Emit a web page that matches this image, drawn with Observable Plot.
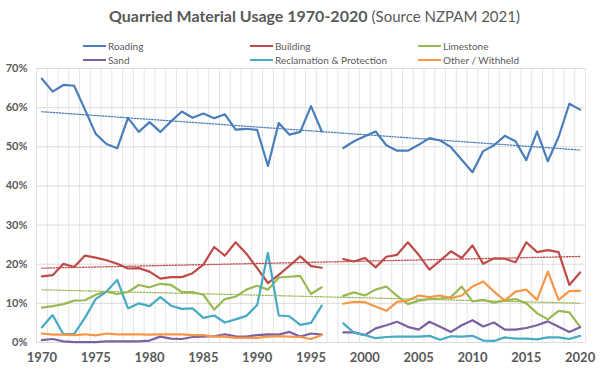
<!DOCTYPE html>
<html>
<head>
<meta charset="utf-8">
<script src="https://cdn.jsdelivr.net/npm/d3@7"></script>
<script src="https://cdn.jsdelivr.net/npm/@observablehq/plot@0.6"></script>
<style>
  body { margin: 0; background: #fff; font-family: Lato, "Open Sans", sans-serif; }
  #wrap { position: relative; width: 602px; height: 371px; overflow: hidden; }
  #title { position: absolute; left: 109px; top: 6px; color: #595959; white-space: nowrap; }
  #title .main { font-weight: bold; font-size: 16px; }
  #title .src { font-size: 15px; }
  .leg { position: absolute; font-size: 10px; color: #595959; white-space: nowrap; line-height: 12px; }
  .leg i { display: inline-block; width: 23px; height: 2px; vertical-align: middle; margin-right: 2px; position: relative; top: -1px; }
  #chart { position: absolute; left: 0; top: 0; }
</style>
</head>
<body>
<div id="wrap">
  <div id="chart"></div>
  <div id="title"><span class="main">Quarried Material Usage 1970-2020</span> <span class="src">(Source NZPAM 2021)</span></div>
  <div id="legend"></div>
</div>
<script>
const years = d3.range(1970, 2021);
// 1997 missing (null)
const roading = [67.4,64.1,65.8,65.6,59.5,53.3,50.7,49.6,57.4,53.8,56.3,53.8,56.5,59.0,57.4,58.5,57.3,58.3,54.4,54.6,54.3,45.1,56.1,53.1,53.8,60.4,53.9,null,49.7,51.4,52.7,53.9,50.4,49.0,49.0,50.5,52.2,51.6,49.9,46.7,43.5,48.9,50.4,52.8,51.4,46.6,53.9,46.3,52.5,61.0,59.5];
const building = [16.9,17.2,20.1,19.3,22.2,21.7,21.0,20.1,18.9,19.0,18.1,16.3,16.7,16.7,17.7,19.9,24.4,22.2,25.6,22.7,19.0,15.2,17.3,19.6,22.0,19.5,19.1,null,21.3,20.7,21.6,19.2,21.9,22.4,25.6,22.4,18.6,20.9,23.3,21.6,24.8,20.1,21.5,21.4,20.5,25.6,23.1,23.6,23.1,14.7,17.9];
const limestone = [8.9,9.3,9.8,10.7,10.8,12.2,13.0,12.4,12.9,14.7,14.1,15.0,14.7,12.9,12.9,12.2,8.4,11.1,11.7,13.5,14.5,13.5,16.6,16.8,17.0,12.4,14.1,null,11.9,12.8,12.0,13.5,14.3,11.9,9.8,10.7,11.1,11.2,11.6,14.3,10.5,10.9,10.2,10.7,11.1,10.0,7.5,5.9,8.1,7.7,4.0];
const sand = [0.6,0.9,0.3,0.1,0.1,0.1,0.3,0.3,0.3,0.3,0.5,1.5,1.0,0.9,1.4,1.5,1.6,2.1,1.6,1.5,1.9,2.1,2.0,2.7,1.5,2.3,2.0,null,2.6,2.6,1.9,3.6,4.4,5.3,4.0,3.3,5.3,4.0,2.7,4.4,5.7,4.1,5.1,3.3,3.3,3.7,4.4,5.4,4.0,2.7,3.9];
const reclamation = [3.9,7.0,2.1,2.2,6.3,11.1,13.0,16.0,8.7,10.0,9.3,11.6,9.4,8.6,8.7,6.3,6.9,5.1,5.9,6.8,9.6,22.9,6.9,6.7,4.5,5.0,9.4,null,4.9,2.5,1.9,1.1,1.4,1.5,1.5,1.5,1.7,0.7,1.6,1.5,1.7,0.5,0.4,1.3,1.0,1.0,0.8,1.3,1.3,0.9,1.7];
const other = [2.3,2.0,2.0,1.9,2.1,1.8,2.3,2.1,2.1,2.1,2.0,2.1,2.1,2.1,1.9,1.9,1.5,1.5,1.2,1.2,1.2,1.5,1.6,1.5,1.4,0.9,1.9,null,9.9,10.4,10.3,9.2,8.1,10.4,10.7,12.0,11.6,12.0,11.3,12.0,14.3,15.6,13.0,10.7,13.0,13.5,10.9,18.1,10.9,13.1,13.2];

const seriesNames = ["Roading","Building","Limestone","Sand","Reclamation & Protection","Other / Withheld"];
const seriesValues = [roading, building, limestone, sand, reclamation, other];
const seriesColors = ["#4a7ebb","#be4b48","#98b954","#7d60a0","#46aac5","#f79646"];
const trendSeries = ["Roading","Building","Limestone"];
const yTicks = [0,10,20,30,40,50,60,70];
const xTicks = [1970,1975,1980,1985,1990,1995,2000,2005,2010,2015,2020];

const data = [];
seriesNames.forEach((name, i) => {
  years.forEach((yr, j) => {
    const v = seriesValues[i][j];
    data.push({series: name, year: yr, value: v == null ? NaN : v / 100});
  });
});
const trendData = data.filter(d => trendSeries.includes(d.series) && !isNaN(d.value));
const colorOf = Object.fromEntries(seriesNames.map((n, i) => [n, seriesColors[i]]));

const W = 602, H = 371;
const plot = Plot.plot({
  width: W, height: H,
  marginLeft: 36, marginRight: 17, marginTop: 68, marginBottom: 29,
  x: {domain: [1969.5, 2020.5], axis: null, label: null},
  y: {domain: [0, 0.7], axis: null, label: null},
  style: {fontFamily: "Lato, 'Open Sans', sans-serif", background: "#fff"},
  marks: [
    Plot.ruleX(d3.range(1969.5, 2021, 1), {stroke: "#e4e4e4", strokeWidth: 1}),
    Plot.ruleY(yTicks.map(t => t / 100), {stroke: "#dcdcdc", strokeWidth: 1}),
    Plot.axisY(yTicks.map(t => t / 100), {label: null, tickSize: 0, tickPadding: 9, tickFormat: d3.format(".0%"), fontSize: 11, fontWeight: "bold", fill: "#595959"}),
    Plot.axisX(xTicks, {label: null, tickSize: 0, tickPadding: 10, tickFormat: d => String(d), fontSize: 13, fontWeight: "bold", fill: "#595959"}),
    Plot.line(data, {x: "year", y: "value", z: "series", stroke: d => colorOf[d.series], strokeWidth: 2.2, strokeLinejoin: "round"}),
    Plot.linearRegressionY(trendData, {x: "year", y: "value", z: "series", stroke: d => colorOf[d.series], strokeWidth: 1.3, strokeDasharray: "1.3,1.6", ci: 0})
  ]
});
document.getElementById("chart").appendChild(plot);

// legend
const legendPos = [[83,40],[250,40],[418,40],[83,54],[250,54],[418,54]];
const leg = document.getElementById("legend");
seriesNames.forEach((n, i) => {
  const el = document.createElement("div");
  el.className = "leg";
  el.style.left = legendPos[i][0] + "px";
  el.style.top = legendPos[i][1] + "px";
  el.innerHTML = `<i style="background:${seriesColors[i]}"></i>${n}`;
  leg.appendChild(el);
});
</script>
</body>
</html>
